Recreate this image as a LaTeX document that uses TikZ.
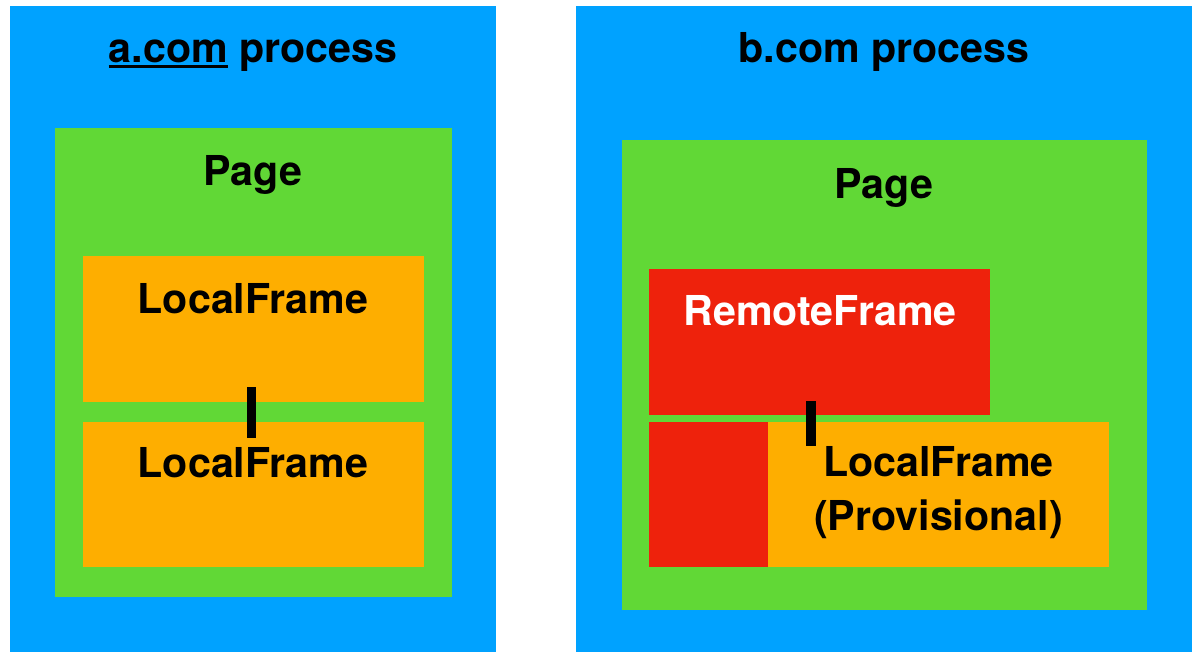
\documentclass[tikz,border=0pt]{standalone}
\usepackage{fontspec}
\setmainfont{TeX Gyre Heros}
\usepackage{tikz}
\definecolor{procblue}{HTML}{00A2FF}
\definecolor{pagegreen}{HTML}{61D836}
\definecolor{framegold}{HTML}{FEAE00}
\definecolor{remotered}{HTML}{EE220C}
\tikzstyle{box}=[draw=none,anchor=north west,inner sep=0pt,outer sep=0pt]
\tikzstyle{proc}=[box,fill=procblue]
\tikzstyle{pg}=[box,fill=pagegreen]
\tikzstyle{lf}=[box,fill=framegold]
\tikzstyle{rf}=[box,fill=remotered]
\tikzstyle{lbl}=[anchor=base,inner sep=0pt,font=\bfseries\fontsize{41.2}{48}\selectfont]
\tikzstyle{bar}=[draw=black,line width=9.5pt]
\newcommand{\domainline}[1]{\setbox0\hbox{#1}\rlap{\rule[-5pt]{\wd0}{2.3pt}}\box0\relax}

\begin{document}
\begin{tikzpicture}[x=1pt,y=-1pt]
\useasboundingbox (0,0) rectangle (1198,662);
% a.com side
\node[proc,minimum width=486pt,minimum height=646pt] (procA) at (10,6) {};
\node[pg,minimum width=397pt,minimum height=469pt] (pageA) at (55,128) {};
\node[lf,minimum width=341.5pt,minimum height=146pt] (lfA1) at (82.5,256) {};
\node[lf,minimum width=341.5pt,minimum height=145pt] (lfA2) at (82.5,422) {};
% b.com side
\node[proc,minimum width=616pt,minimum height=646pt] (procB) at (576,6) {};
\node[pg,minimum width=525pt,minimum height=470pt] (pageB) at (622,140) {};
\node[rf,minimum width=341.5pt,minimum height=145.5pt] (rfB) at (648.5,269) {};
\node[rf,minimum width=119.5pt,minimum height=145pt] (rfB2) at (648.5,422) {};
\node[lf,minimum width=341pt,minimum height=145pt] (lfB) at (768,422) {};
% labels
\node[lbl] (tA) at (253,62.5) {\domainline{a.com} process};
\node[lbl] (tB) at (884,62.5) {b.com process};
\node[lbl] (pA) at (253,185) {Page};
\node[lbl] (pB) at (884,198.3) {Page};
\node[lbl] (nA1) at (253,313.3) {LocalFrame};
\node[lbl] (nA2) at (253,477.5) {LocalFrame};
\node[lbl,text=white] (nR) at (820,325.7) {RemoteFrame};
\node[lbl] (nB1) at (938.5,476.7) {LocalFrame};
\node[lbl] (nB2) at (938.5,530) {(Provisional)};
% links
\draw[bar] ([xshift=-2pt,yshift=15pt]lfA1.south) -- ([xshift=-2pt,yshift=-15.5pt]lfA2.north);
\draw[bar] ([xshift=-8.5pt,yshift=13.5pt]rfB.south) -- ++(0,44.5);
\end{tikzpicture}
\end{document}
